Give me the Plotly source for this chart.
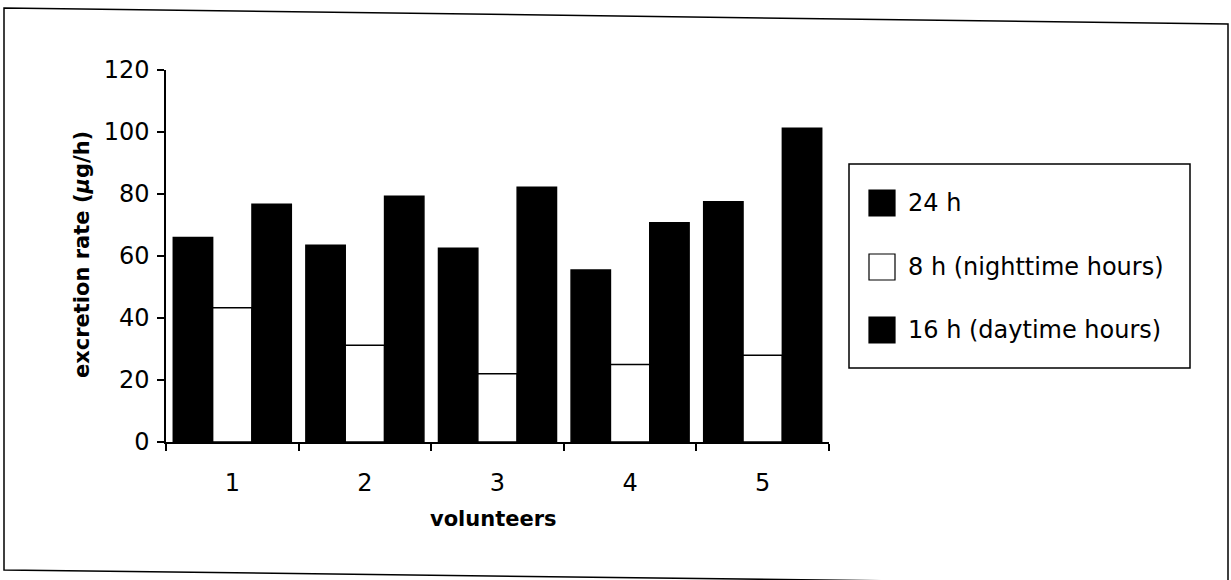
import plotly.graph_objects as go

volunteers = ['1', '2', '3', '4', '5']
series_names = ['24 h', '8 h (nighttime hours)', '16 h (daytime hours)']
rate_24h = [66, 63.5, 62.5, 55.5, 77.5]
rate_8h = [43.3, 31.2, 22, 25, 28]
rate_16h = [76.7, 79.3, 82.2, 70.7, 101.2]
y_ticks = [0, 20, 40, 60, 80, 100, 120]

W, H = 1231, 580
L, R, T, B = 166, 829, 70, 442   # plot area in pixels


def px(x):
    return (x - L) / (R - L)


def py(y):
    return (B - y) / (B - T)


font = 'DejaVu Sans, Arial, sans-serif'
fills = ['black', 'white', 'black']

fig = go.Figure()
for name, vals, col in zip(series_names, [rate_24h, rate_8h, rate_16h], fills):
    fig.add_trace(go.Bar(
        x=volunteers, y=vals, name=name,
        marker=dict(color=col, line=dict(color='black', width=1.5)),
        showlegend=False
    ))

# frame round the whole chart (slightly tilted, as scanned)
shapes = [dict(
    type='path', xref='paper', yref='paper',
    path=f'M {px(4)},{py(8)} L {px(1228)},{py(24)} L {px(1228)},{py(585)} L {px(4)},{py(570)} Z',
    line=dict(color='black', width=1.5)
)]

# legend box drawn by hand, so the keys can be as large as in the original
shapes.append(dict(type='rect', xref='paper', yref='paper',
                   x0=px(849), x1=px(1190), y0=py(368), y1=py(164),
                   line=dict(color='black', width=1.5)))
annotations = []
for name, col, yc in zip(series_names, fills, [203, 267, 330]):
    shapes.append(dict(type='rect', xref='paper', yref='paper',
                       x0=px(869), x1=px(895), y0=py(yc + 13), y1=py(yc - 13),
                       fillcolor=col, line=dict(color='black', width=1.2)))
    annotations.append(dict(x=px(906), y=py(yc), xref='paper', yref='paper',
                            text=name, showarrow=False, xanchor='left', yanchor='middle',
                            font=dict(family=font, size=24, color='black')))

annotations.append(dict(x=px(493), y=py(533), xref='paper', yref='paper',
                        text='<b>volunteers</b>', showarrow=False,
                        font=dict(family=font, size=21, color='black')))
annotations.append(dict(x=px(68), y=py(255), xref='paper', yref='paper',
                        text='<b>excretion rate (<i>μ</i>g/h)</b>', showarrow=False, textangle=-90,
                        font=dict(family=font, size=21, color='black')))

fig.update_layout(
    width=W, height=H,
    margin=dict(l=L, r=W - R, t=T, b=H - B),
    paper_bgcolor='white', plot_bgcolor='white',
    barmode='group', bargap=0.11, bargroupgap=0,
    font=dict(family=font, color='black'),
    shapes=shapes, annotations=annotations,
    xaxis=dict(
        tickson='boundaries', ticks='outside', ticklen=7, tickwidth=1.5, tickcolor='black',
        showline=True, linecolor='black', linewidth=1.5, showgrid=False,
        tickfont=dict(size=24), ticklabelstandoff=18
    ),
    yaxis=dict(
        range=[0, 120], tickvals=y_ticks, ticks='outside', ticklen=7, tickwidth=1.5,
        tickcolor='black', showline=True, linecolor='black', linewidth=1.5,
        showgrid=False, zeroline=False, tickfont=dict(size=24), ticklabelstandoff=3
    ),
)

# the page's default 8px body margin would shift the whole figure
fig.write_html('out.html', config={'displayModeBar': False},
               post_script="document.body.style.margin='0';")
